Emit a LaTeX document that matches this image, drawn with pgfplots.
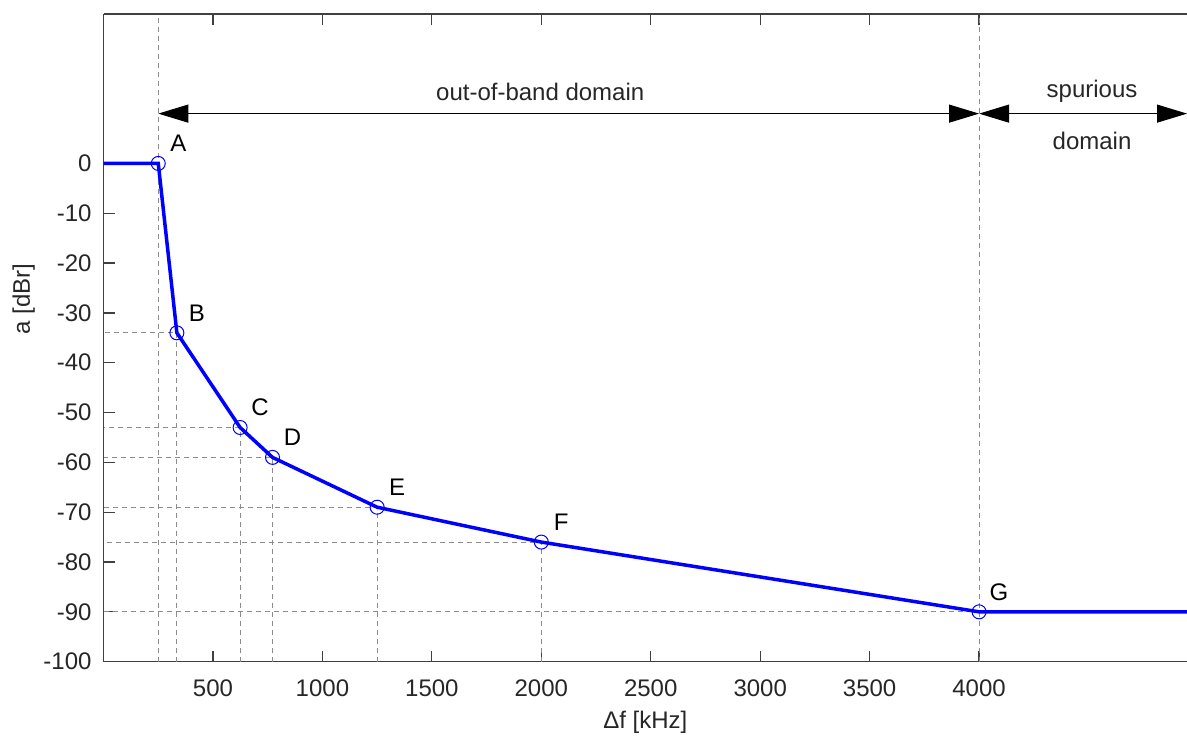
\documentclass[border=0pt]{standalone}
\usepackage{fontspec}
\setmainfont{Liberation Sans}
\usepackage{pgfplots}
\pgfplotsset{compat=1.18}
\usetikzlibrary{arrows.meta}
\definecolor{axgray}{RGB}{64,64,64}
\definecolor{txtgray}{RGB}{38,38,38}
\definecolor{gridgray}{RGB}{140,140,140}
\begin{document}
\begin{tikzpicture}
\begin{axis}[
  name=ax,
  scale only axis,
  width=542pt, height=324pt,
  xmin=0, xmax=4950, ymin=-100, ymax=30,
  axis x line=box, axis y line=left,
  axis line style={-, axgray, line width=0.6pt},
  xtick={500,1000,...,4000},
  ytick={-100,-90,...,0},
  major tick length=5.5pt,
  tick style={axgray, line width=0.6pt},
  tick align=inside,
  ticklabel style={font=\fontsize{12}{14}\selectfont, text=txtgray},
  xticklabel style={yshift=-5.5pt},
  yticklabel style={xshift=-2.5pt},
  /pgf/number format/assume math mode=true,
  /pgf/number format/1000 sep={},
  xlabel={Δf [kHz]},
  ylabel={a [dBr]},
  label style={font=\fontsize{12}{14}\selectfont, text=txtgray},
  xlabel style={at={(axis description cs:0.5,0)}, anchor=center, yshift=-30.5pt},
  ylabel style={at={(axis description cs:0,0.56)}, anchor=center, rotate=0, yshift=40pt},
  clip=false,
]
% dashed guide lines
\pgfplotsset{guide/.style={gridgray, dash pattern=on 2.5pt off 2pt, line width=0.45pt}}
\addplot[guide] coordinates {(250,-100) (250,30)};
\addplot[guide] coordinates {(4000,-100) (4000,30)};
\addplot[guide] coordinates {(335,-100) (335,-34) (0,-34)};
\addplot[guide] coordinates {(624,-100) (624,-53) (0,-53)};
\addplot[guide] coordinates {(772,-100) (772,-59) (0,-59)};
\addplot[guide] coordinates {(1250,-100) (1250,-69) (0,-69)};
\addplot[guide] coordinates {(2000,-100) (2000,-76) (0,-76)};
\addplot[guide] coordinates {(0,-90) (4000,-90)};
\addplot[guide] coordinates {(0,0) (250,0)};
% mask curve
\addplot[blue, line width=1.75pt] coordinates {
  (0,0) (250,0) (335,-34) (624,-53) (772,-59) (1250,-69) (2000,-76) (4000,-90) (4950,-90)};
\addplot[blue, only marks, mark=o, mark size=3.5pt, mark options={line width=0.5pt}] coordinates {
  (250,0) (335,-34) (624,-53) (772,-59) (1250,-69) (2000,-76) (4000,-90)};
% point labels
\begin{scope}[every node/.style={font=\fontsize{12}{14}\selectfont, xshift=10pt, yshift=10pt}]
\node at (axis cs:250,0) {A};
\node at (axis cs:335,-34) {B};
\node at (axis cs:624,-53) {C};
\node at (axis cs:772,-59) {D};
\node at (axis cs:1250,-69) {E};
\node at (axis cs:2000,-76) {F};
\node at (axis cs:4000,-90) {G};
\end{scope}
% domain arrows
\draw[{Triangle[length=15pt,width=9pt]}-{Triangle[length=15pt,width=9pt]}, line width=0.5pt]
  (axis cs:250,10) -- (axis cs:4000,10);
\draw[{Triangle[length=15pt,width=9pt]}-{Triangle[length=15pt,width=9pt]}, line width=0.5pt]
  (axis cs:4000,10) -- (axis cs:4950,10);
\node[font=\fontsize{12}{14}\selectfont, text=txtgray] at (axis cs:1995,14.4) {out-of-band domain};
\node[font=\fontsize{12}{14}\selectfont, text=txtgray] at (axis cs:4516,14.4) {spurious};
\node[font=\fontsize{12}{14}\selectfont, text=txtgray] at (axis cs:4516,4.6) {domain};
\end{axis}
\pgfresetboundingbox
\useasboundingbox ([xshift=-51.8pt,yshift=-37pt]ax.south west) rectangle ([yshift=7pt]ax.north east);
\end{tikzpicture}
\end{document}
